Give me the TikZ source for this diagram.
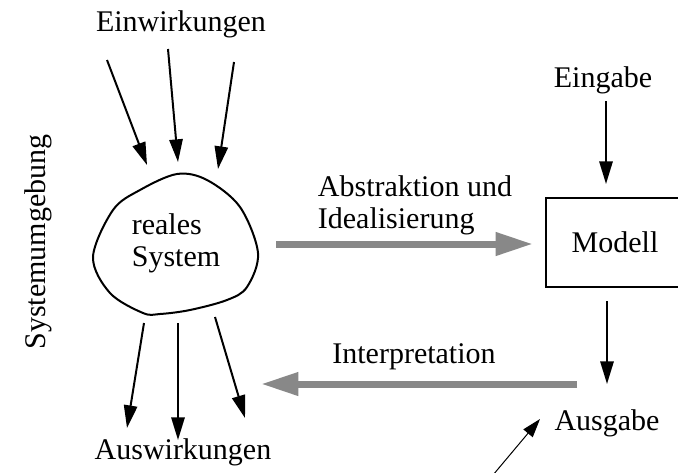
\documentclass[tikz,border=0pt]{standalone}
\usepackage{fontspec}
\setmainfont{Liberation Serif}
\usetikzlibrary{arrows.meta}
\definecolor{arrowgray}{HTML}{888888}
\begin{document}
\begin{tikzpicture}[x=0.75pt,y=-0.75pt,
  font=\fontsize{22.5}{24}\selectfont,
  blk/.style={line width=1.5pt,-{Triangle[length=17pt,width=10pt]}},
  gry/.style={line width=5.25pt,draw=arrowgray,-{Triangle[length=28pt,width=16.5pt]}},
  thinarrow/.style={line width=0.75pt,-{Triangle[length=14pt,width=9pt]}},
  lbl/.style={inner sep=0pt,align=left}]
\useasboundingbox (0,0) rectangle (678,472);

% texts
\node[lbl] (ein) at (181,24) {Einwirkungen};
\node[lbl] (ausw) at (183,452) {Auswirkungen};
\node[lbl] (eing) at (603,80) {Eingabe};
\node[lbl] (ausg) at (607,423) {Ausgabe};
\node[lbl,rotate=90] (sysu) at (38,242) {Systemumgebung};
\node[lbl] (abs) at (415,205) {Abstraktion und\\Idealisierung};
\node[lbl] (interp) at (414,357) {Interpretation};

% model box (cut by right page edge)
\node[draw,line width=1.5pt,minimum width=103.5pt,minimum height=66.75pt,inner sep=0pt] (mod) at (615,242.5) {Modell};

% real system blob
\draw[line width=1.5pt] plot[smooth cycle,tension=0.55] coordinates
  {(177,174) (207,180) (240,207) (258,253) (247,287) (227,300) (190,310)
   (160,314) (143,313) (110,293) (93,257) (113,210) (140,190)};
\node[lbl] (sys) at (176,243) {reales\\System};

% coordinates for arrow ends
\coordinate (e1s) at (107,60);  \coordinate (e1e) at (147,165);
\coordinate (e2s) at (168,49);  \coordinate (e2e) at (178,162);
\coordinate (e3s) at (234,62);  \coordinate (e3e) at (218,169);
\coordinate (a1s) at (144,323); \coordinate (a1e) at (127,428);
\coordinate (a2s) at (178,323); \coordinate (a2e) at (178,440);
\coordinate (a3s) at (215,317); \coordinate (a3e) at (245,418);
\coordinate (gs) at (276,244);  \coordinate (ge) at (533,244);
\coordinate (is) at (577,384);  \coordinate (ie) at (261,384);
\coordinate (ins) at (606,101); \coordinate (ine) at (606,184);
\coordinate (outs) at (607,301); \coordinate (oute) at (607,384);
\coordinate (ts) at (493,475);  \coordinate (te) at (540,419);

\draw[blk] (e1s) -- (e1e);
\draw[blk] (e2s) -- (e2e);
\draw[blk] (e3s) -- (e3e);
\draw[blk] (a1s) -- (a1e);
\draw[blk] (a2s) -- (a2e);
\draw[blk] (a3s) -- (a3e);
\draw[blk] (ins) -- (ine);
\draw[blk] (outs) -- (oute);
\draw[gry] (gs) -- (ge);
\draw[gry] (is) -- (ie);
\draw[thinarrow] (ts) -- (te);
\end{tikzpicture}
\end{document}
